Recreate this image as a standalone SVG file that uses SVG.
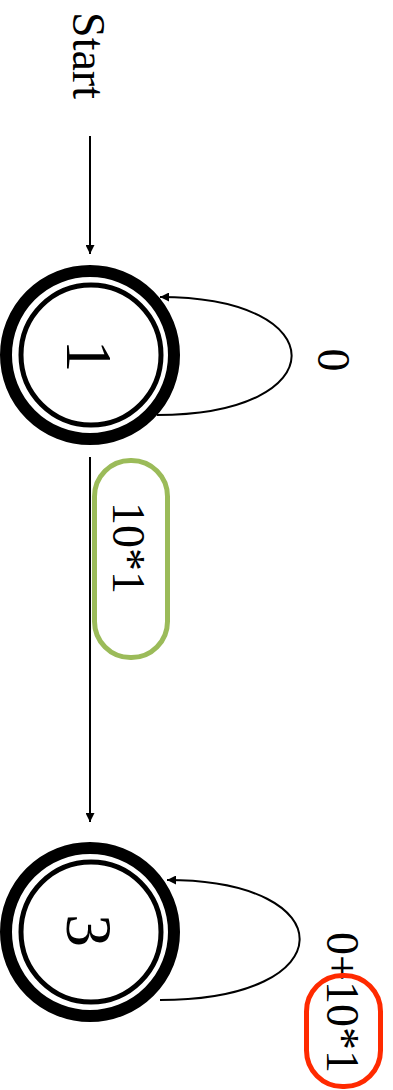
<svg xmlns="http://www.w3.org/2000/svg" width="393" height="1090" viewBox="0 0 393 1090">
<style>
.t{font-family:"Liberation Serif","Times New Roman",serif;fill:#000;text-anchor:middle}
.lbl{font-size:46px}
.num{font-size:66px}
.ring{fill:none;stroke:#000;stroke-width:12}
.inner{fill:none;stroke:#000;stroke-width:5}
.edge{fill:none;stroke:#000;stroke-width:2}
</style>
<defs>
<marker id="ah" viewBox="0 0 10 10" refX="10" refY="5" markerWidth="9" markerHeight="9" markerUnits="userSpaceOnUse" orient="auto">
<path d="M0,0 L10,5 L0,10 z" fill="#000"/>
</marker>
</defs>
<rect width="393" height="1090" fill="#fff"/>
<g id="start">
<text class="t lbl" transform="translate(73,55.5) rotate(90)">Start</text>
</g>
<g id="connectors">
<line class="edge" x1="90" y1="136" x2="90" y2="254" marker-end="url(#ah)"/>
<path class="edge" d="M157,415 C336,415 336,297 160,297" marker-end="url(#ah)"/>
<line class="edge" x1="90" y1="457" x2="90" y2="822" marker-end="url(#ah)"/>
<path class="edge" d="M160,1000 C345,1000 345,880 167,880" marker-end="url(#ah)"/>
<text class="t lbl" transform="translate(318,360) rotate(90)">0</text>
<rect x="94.5" y="460.5" width="73" height="197" rx="36" ry="36" fill="none" stroke="#9BBB59" stroke-width="5"/>
<text class="t lbl" transform="translate(113,548) rotate(90)">10*1</text>
<text class="t lbl" transform="translate(327,1002.5) rotate(90)">0+10*1</text>
<rect x="306.5" y="975.5" width="74" height="111" rx="36" ry="36" fill="none" stroke="#FF2A00" stroke-width="5"/>
</g>
<g id="node1">
<circle class="ring" cx="90" cy="355" r="84"/>
<circle class="inner" cx="91" cy="355" r="70"/>
<text class="t num" transform="translate(67,356) rotate(90)">1</text>
</g>
<g id="node3">
<circle class="ring" cx="90" cy="932" r="84"/>
<circle class="inner" cx="91" cy="932" r="70"/>
<text class="t num" transform="translate(67,930.5) rotate(90)">3</text>
</g>
</svg>
